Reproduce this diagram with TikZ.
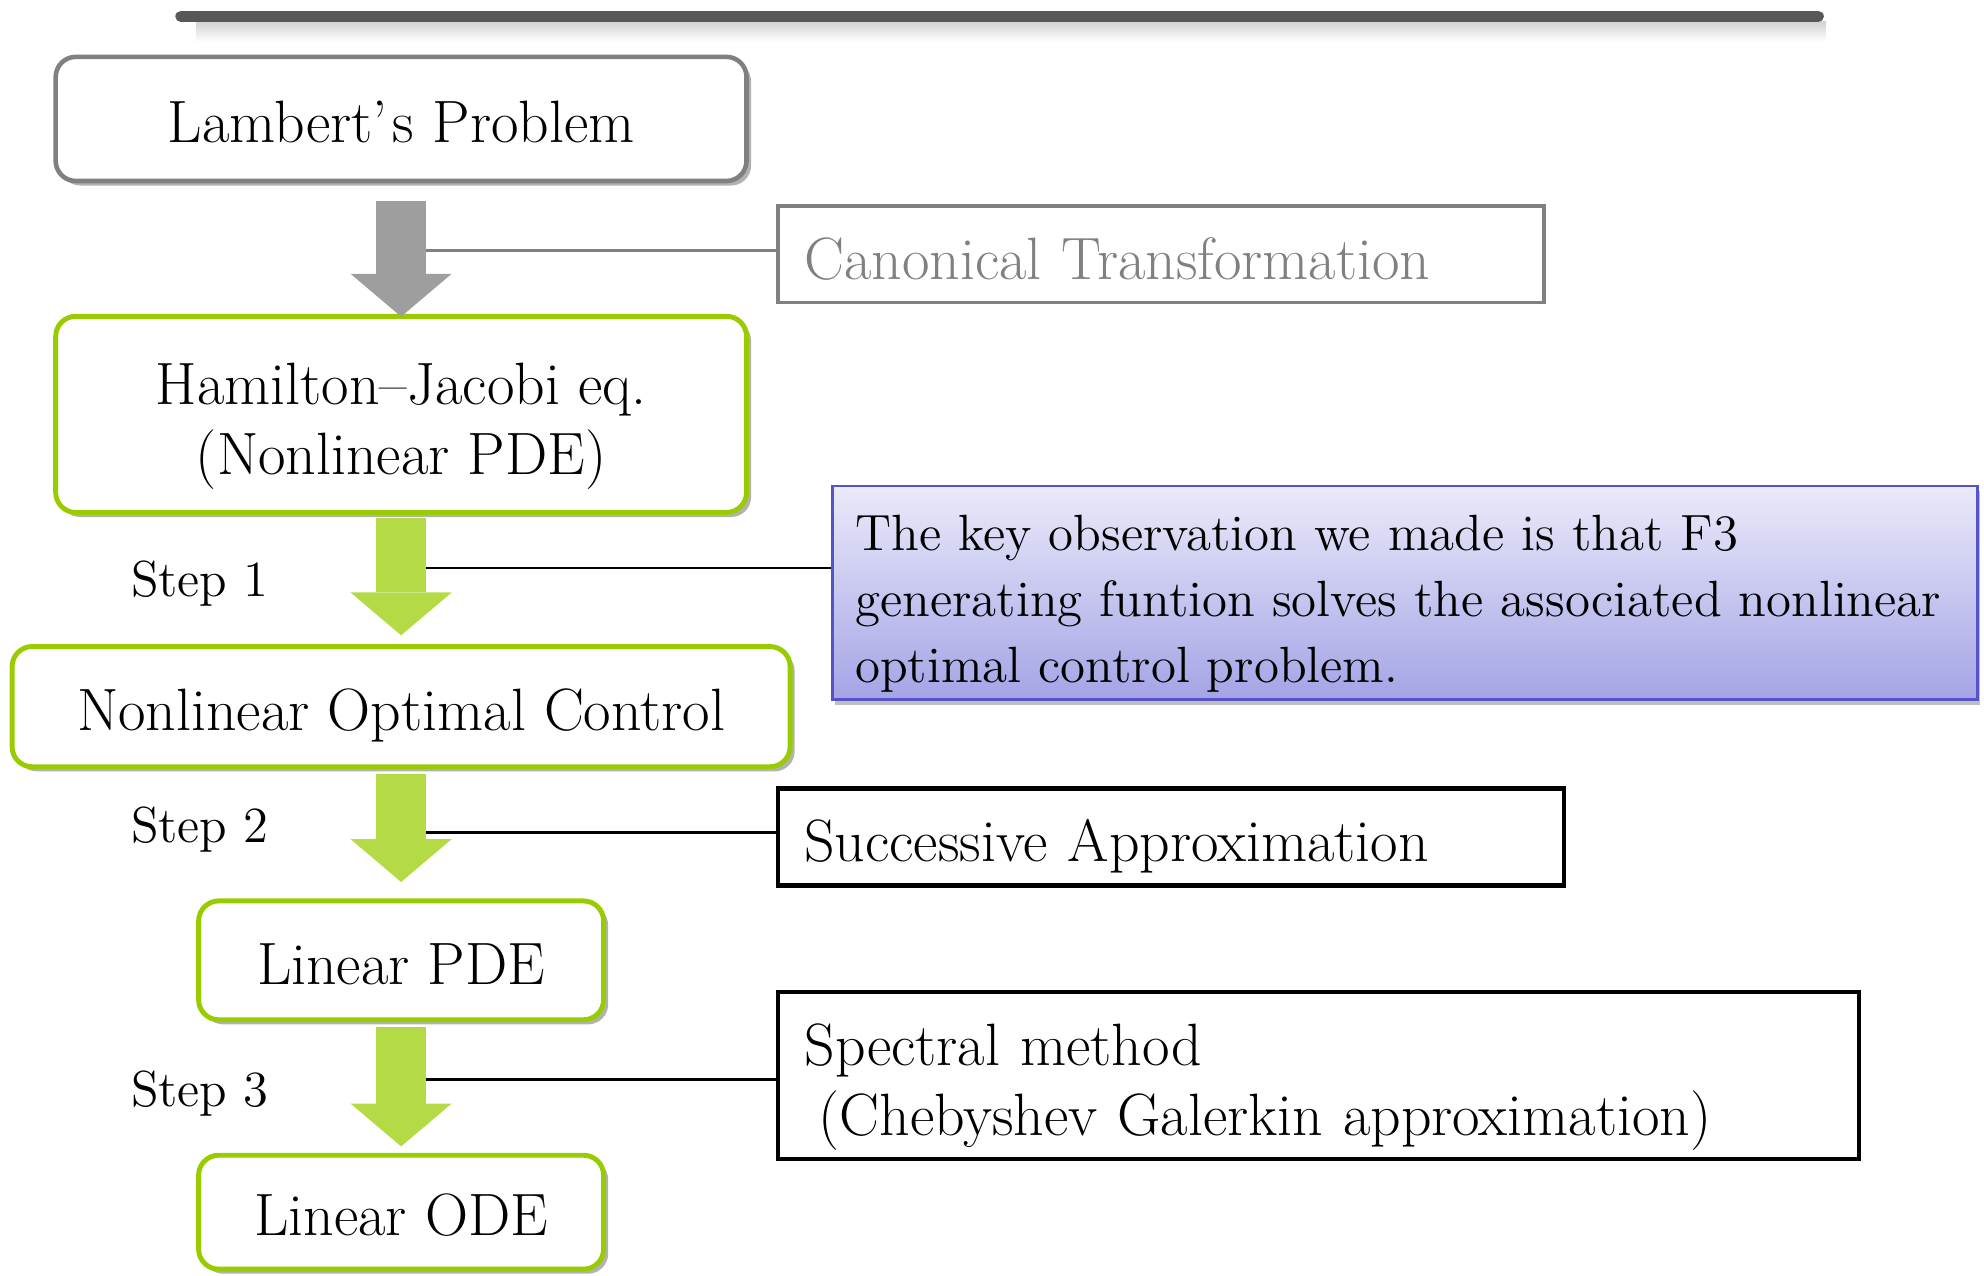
\documentclass[tikz,border=0pt]{standalone}
\usepackage{tikz}
\usetikzlibrary{arrows.meta,positioning,calc,shadows}

\definecolor{lgreen}{RGB}{153,204,0}
\definecolor{agreen}{RGB}{180,218,70}
\definecolor{agray}{RGB}{158,158,158}
\definecolor{bargray}{RGB}{88,88,90}
\definecolor{keyline}{RGB}{84,84,200}
\definecolor{keytop}{RGB}{234,234,250}
\definecolor{keybot}{RGB}{164,164,230}

\newcommand{\boxfont}{\fontsize{17}{20}\selectfont}
\newcommand{\keyfont}{\fontsize{14.5}{18.7}\selectfont}
\newcommand{\stepfont}{\fontsize{14.4}{17}\selectfont}

\tikzset{
	box/.style={rounded corners=5.7pt, fill=white, line width=1.4pt, align=center, inner sep=0pt, font=\boxfont,
		text height=14.5pt, text depth=1pt,
		drop shadow={shadow xshift=1.3pt, shadow yshift=-1.3pt, fill=gray!60, opacity=1}},
	greenbox/.style={box, draw=lgreen},
	graybox/.style={box, draw=gray, line width=1.3pt},
	notebox/.style={draw, line width=1.3pt, fill=white, align=left, inner xsep=7.5pt, inner ysep=0pt, font=\boxfont,
		text height=15.5pt, text depth=1pt},
	blockarrow/.style={line width=14.4pt, -{Triangle[width=28.8pt, length=12.2pt, line width=0pt]}},
	stepnode/.style={font=\stepfont, inner sep=0pt},
	link/.style={line width=0.75pt}
}

\begin{document}
\begin{tikzpicture}[x=0.012653cm, y=-0.012653cm]
	\useasboundingbox (0,0) rectangle (1568,1008);

	\coordinate (barl) at (143,13);
	\coordinate (barr) at (1437,13);
	\shade[top color=gray!35, bottom color=white] ($(barl)+(12,4)$) rectangle ($(barr)+(6,20)$);
	\draw[bargray, line width=3.2pt, line cap=round] (barl) -- (barr);

	\begin{scope}
		\node[graybox, minimum width=196.5pt, minimum height=35.3pt] (lambert) at (317,94) {Lambert'\kern1.5pt s Problem};
		\node[greenbox, minimum width=196.5pt, minimum height=55.8pt, text height=35pt, text depth=0.8pt] (hj) at (317,327.5) {Hamilton--Jacobi eq.\\(Nonlinear PDE)};
		\node[greenbox, minimum width=221.3pt, minimum height=34.2pt] (noc) at (317,558.5) {Nonlinear Optimal Control};
		\node[greenbox, minimum width=115.2pt, minimum height=33.8pt] (lpde) at (317,759) {Linear PDE};
		\node[greenbox, minimum width=115.2pt, minimum height=32.4pt] (lode) at (317,958) {Linear ODE};
	\end{scope}

	\begin{scope}
		\node[notebox, draw=gray, text=gray, text width=202.8pt, minimum height=27.4pt, line width=1.1pt] (canon) at (917.5,201) {Canonical Transformation};
		\node[notebox, draw=keyline, top color=keytop, bottom color=keybot, text width=312.8pt, inner xsep=6.5pt, minimum height=60.8pt, font=\keyfont, line width=0.8pt,
			text height=10.5pt, text depth=34.5pt,
			drop shadow={shadow xshift=0.6pt, shadow yshift=-1.4pt, fill=gray!50, opacity=1}] (keyobs) at (1110.5,468.5)
			{The key observation we made is that F3\\generating funtion solves the associated nonlinear\\optimal control problem.};
		\node[notebox, text width=208.6pt, minimum height=27.7pt, text height=15pt] (succ) at (925.5,661.5) {Successive Approximation};
		\node[notebox, text width=292.4pt, minimum height=47.5pt, text height=12pt, text depth=17.8pt] (spec) at (1042,850) {Spectral method\\\hspace*{4pt}(Chebyshev Galerkin approximation)};
	\end{scope}

	\node[stepnode] (step1) at (158,461) {Step 1};
	\node[stepnode] (step2) at (158,656) {Step 2};
	\node[stepnode] (step3) at (158,864) {Step 3};

	\draw[blockarrow, agray, shorten <=5pt, shorten >=-0.8pt] (lambert.south) -- (hj.north);
	\draw[blockarrow, agreen, shorten <=1pt, shorten >=2.5pt] (hj.south) -- (noc.north);
	\draw[blockarrow, agreen, shorten <=1.4pt, shorten >=4.7pt] (noc.south) -- (lpde.north);
	\draw[blockarrow, agreen, shorten <=1.4pt, shorten >=1.8pt] (lpde.south) -- (lode.north);

	\coordinate (c0) at (337,198);
	\coordinate (c1) at (337,449);
	\coordinate (c2) at (337,658);
	\coordinate (c3) at (337,853);

	\draw[link, gray] (c0) -- (c0 -| canon.west);
	\draw[link] (c1) -- (c1 -| keyobs.west);
	\draw[link] (c2) -- (c2 -| succ.west);
	\draw[link] (c3) -- (c3 -| spec.west);
\end{tikzpicture}
\end{document}
